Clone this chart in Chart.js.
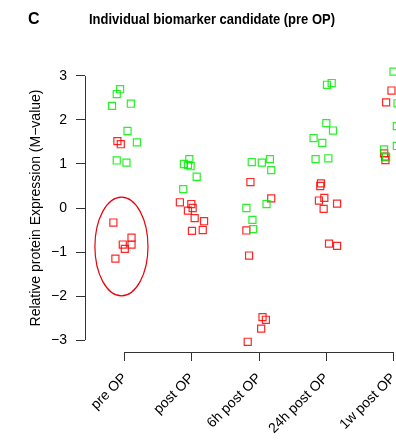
<!DOCTYPE html>
<html>
<head>
<meta charset="utf-8">
<script src="https://cdn.jsdelivr.net/npm/chart.js@4"></script>
<style>
  html, body { margin: 0; padding: 0; background: #fff; overflow: hidden; }
  #wrap { width: 396px; height: 440px; overflow: hidden; }
</style>
</head>
<body>
<div id="wrap"><canvas id="chart" width="440" height="440"></canvas></div>
<script>
const categories = ['pre OP', 'post OP', '6h post OP', '24h post OP', '1w post OP'];
const yTicks = [-3, -2, -1, 0, 1, 2, 3];

// green series: values and horizontal jitter per category
const greenValues = [
    [2.70, 2.59, 2.32, 2.37, 1.75, 1.49, 1.08, 1.03],
    [1.11, 1.00, 0.98, 0.95, 0.71, 0.43],
    [1.045, 1.03, 1.11, 0.86, 0.09, 0.00, -0.27, -0.48],
    [2.80, 2.84, 1.93, 1.76, 1.59, 1.48, 1.11, 1.13],
    [3.10, 2.38, 1.86, 1.41, 1.33, 1.15]
];
const greenJitter = [
    [-0.07, -0.12, -0.19, 0.09, 0.04, 0.18, -0.12, 0.025],
    [-0.04, -0.12, -0.06, -0.02, 0.07, -0.13],
    [-0.11, 0.04, 0.16, 0.18, 0.11, -0.19, -0.10, -0.09],
    [0.01, 0.08, 0.00, 0.10, -0.19, -0.06, -0.16, 0.03],
    [0.00, 0.06, 0.05, 0.05, -0.14, -0.11]
];

// red series
const redValues = [
    [1.52, 1.45, -0.33, -0.83, -0.93, -0.675, -0.83, -1.15],
    [0.13, 0.09, -0.06, 0.00, -0.23, -0.30, -0.52, -0.50],
    [0.59, 0.22, -0.51, -1.08, -2.48, -2.54, -2.74, -3.04],
    [0.56, 0.50, 0.23, 0.17, -0.02, 0.10, -0.81, -0.86],
    [2.67, 2.40, 1.24, 1.17, 1.09]
];
const redJitter = [
    [-0.11, -0.06, -0.17, -0.03, 0.00, 0.10, 0.10, -0.14],
    [-0.18, -0.01, -0.06, 0.01, 0.04, 0.18, 0.00, 0.16],
    [-0.13, 0.18, -0.19, -0.15, 0.05, 0.10, 0.03, -0.17],
    [-0.08, -0.09, -0.03, -0.11, -0.04, 0.16, 0.04, 0.16],
    [-0.03, -0.11, -0.14, -0.12, -0.12]
];

// highlighted group (ellipse around pre OP low values)
const ellipse = { x: 0.95, y: -0.875, rx: 0.395, ry: 1.12 };

function toPoints(values, jitter) {
    const pts = [];
    values.forEach(function(list, i) {
        list.forEach(function(v, j) {
            pts.push({ x: i + 1 + jitter[i][j], y: v });
        });
    });
    return pts;
}

const axisColor = '#333';
const font = 'Liberation Sans, Arial, Helvetica, sans-serif';

const rAxes = {
    id: 'rAxes',
    afterDraw(chart) {
        const c = chart.ctx;
        const xs = chart.scales.x, ys = chart.scales.y;
        const area = chart.chartArea;
        c.save();
        c.strokeStyle = axisColor;
        c.lineWidth = 1;
        // axis lines only between first and last tick
        c.beginPath();
        c.moveTo(Math.round(area.left) + 0.5, ys.getPixelForValue(-3));
        c.lineTo(Math.round(area.left) + 0.5, ys.getPixelForValue(3));
        c.moveTo(xs.getPixelForValue(1), Math.round(area.bottom) + 0.5);
        c.lineTo(xs.getPixelForValue(5), Math.round(area.bottom) + 0.5);
        c.stroke();

        // ellipse
        c.strokeStyle = '#e8000b';
        c.lineWidth = 1.2;
        const cx = xs.getPixelForValue(ellipse.x), cy = ys.getPixelForValue(ellipse.y);
        const rx = xs.getPixelForValue(ellipse.x + ellipse.rx) - cx;
        const ry = cy - ys.getPixelForValue(ellipse.y + ellipse.ry);
        c.beginPath();
        c.ellipse(cx, cy, rx, ry, 0, 0, Math.PI * 2);
        c.stroke();

        // panel letter and title
        c.fillStyle = '#000';
        c.textBaseline = 'middle';
        c.font = 'bold 16px ' + font;
        c.textAlign = 'left';
        c.fillText('C', 28, 20);
        c.font = 'bold 14px ' + font;
        const title = 'Individual biomarker candidate (pre OP)';
        const w = c.measureText(title).width;
        c.translate(89, 20);
        c.scale(246 / w, 1);
        c.fillText(title, 0, 0);
        c.restore();
    }
};

new Chart(document.getElementById('chart').getContext('2d'), {
    type: 'scatter',
    data: {
        datasets: [{
            data: toPoints(greenValues, greenJitter),
            borderColor: 'rgba(0, 240, 0, 0.85)',
            backgroundColor: 'rgba(0,0,0,0)',
            pointStyle: 'rect',
            pointRadius: 5,
            pointBorderWidth: 1.2
        }, {
            data: toPoints(redValues, redJitter),
            borderColor: 'rgba(255, 0, 0, 0.85)',
            backgroundColor: 'rgba(0,0,0,0)',
            pointStyle: 'rect',
            pointRadius: 5,
            pointBorderWidth: 1.2
        }]
    },
    options: {
        responsive: false,
        animation: false,
        events: [],
        layout: { padding: { top: 64, right: 4.5, left: 0, bottom: 0 } },
        plugins: { legend: { display: false }, tooltip: { enabled: false } },
        scales: {
            x: {
                type: 'linear',
                min: 0.4074,
                max: 5.6,
                afterFit(scale) { scale.height = 88; },
                afterBuildTicks(scale) { scale.ticks = [1, 2, 3, 4, 5].map(v => ({ value: v })); },
                border: { display: false },
                grid: { drawOnChartArea: false, drawTicks: true, tickLength: 9, color: axisColor },
                ticks: {
                    minRotation: 45,
                    maxRotation: 45,
                    autoSkip: false,
                    padding: 9,
                    color: '#000',
                    font: { family: font, size: 14 },
                    callback: v => categories[v - 1]
                }
            },
            y: {
                min: -3.2727,
                max: 3.2727,
                afterFit(scale) { scale.width = 85; },
                afterBuildTicks(scale) { scale.ticks = yTicks.map(v => ({ value: v })); },
                border: { display: false },
                grid: { drawOnChartArea: false, drawTicks: true, tickLength: 9, color: axisColor },
                ticks: {
                    padding: 9,
                    color: '#000',
                    font: { family: font, size: 14 },
                    callback: v => (v < 0 ? '\u2212' + Math.abs(v) : String(v))
                },
                title: {
                    display: true,
                    text: 'Relative protein Expression (M\u2212value)',
                    color: '#000',
                    font: { family: font, size: 14 },
                    padding: { top: 28, bottom: 0 }
                }
            }
        }
    },
    plugins: [rAxes]
});
</script>
</body>
</html>
